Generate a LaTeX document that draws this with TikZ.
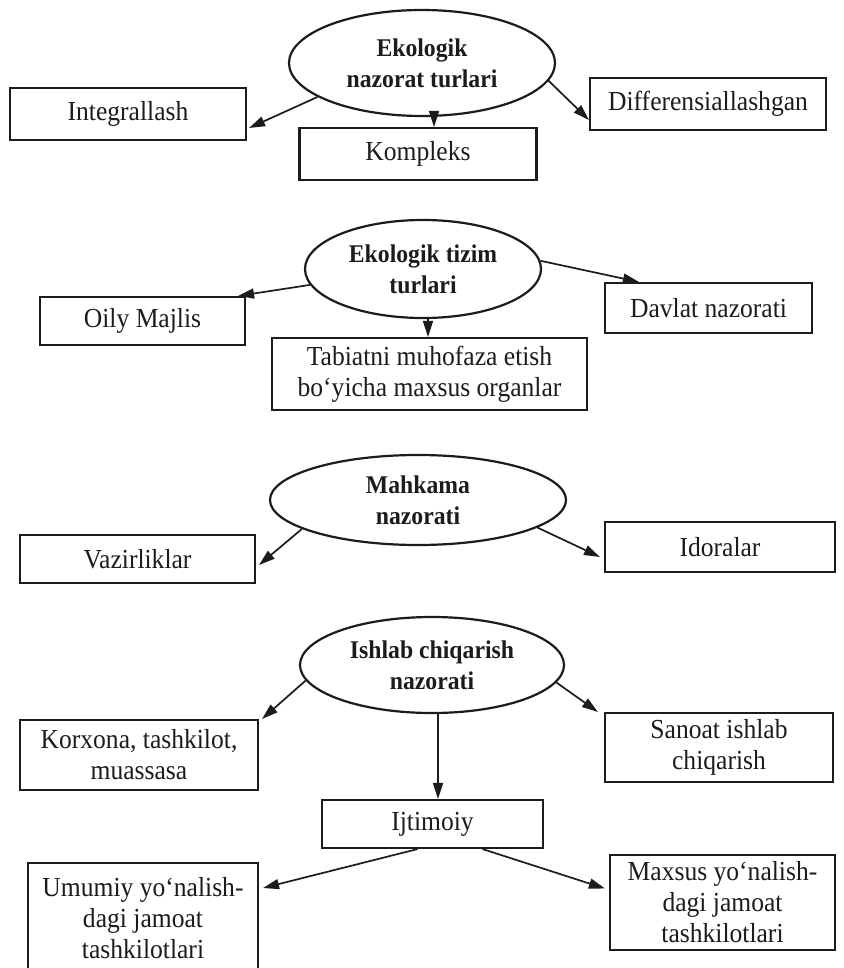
\documentclass[tikz,border=0pt]{standalone}
\usepackage{fontspec}
\setmainfont{Liberation Serif}[FakeStretch=0.93]
\usetikzlibrary{shapes.geometric,arrows.meta,calc}
\definecolor{ink}{HTML}{1C1C1C}
\tikzset{
  ell/.style={draw=ink, text=ink, ellipse, line width=2.2pt, inner sep=0pt,
    font=\fontsize{25.5}{31}\selectfont\bfseries, align=center},
  bx/.style={draw=ink, text=ink, rectangle, line width=2.1pt, inner sep=0pt,
    font=\fontsize{27.5}{31}\selectfont, align=center},
  arr/.style={draw=ink, line width=1.7pt, -{Triangle[length=16pt,width=10pt]}}
}
\begin{document}
\begin{tikzpicture}[x=1pt,y=-1pt]
\useasboundingbox[fill=white] (0,0) rectangle (843,968);

% group 1
\node[ell, minimum width=266pt, minimum height=106pt] (e1) at (422,63) {Ekologik\\nazorat turlari};
\node[bx, minimum width=236pt, minimum height=52pt] (int) at (128,114) {Integrallash};
\node[bx, minimum width=237pt, minimum height=52pt] (komp) at (418,154) {Kompleks};
\node[bx, minimum width=236pt, minimum height=52pt] (dif) at (708,104) {Differensiallashgan};
\draw[arr] (e1.198) -- ([shift={(2,14)}]int.east);
\draw[arr] ([shift={(12,0)}]e1.south) -- ([shift={(12,0)}]e1.south |- komp.north);
\draw[arr] (e1.352) -- ([shift={(0,16)}]dif.west);

% group 2
\node[ell, minimum width=236pt, minimum height=98pt] (e2) at (423,269) {Ekologik tizim\\turlari};
\node[bx, minimum width=205pt, minimum height=48pt] (om) at (142.5,321) {Oily Majlis};
\node[bx, minimum width=207pt, minimum height=50pt] (dav) at (708.5,308) {Davlat nazorati};
\node[bx, minimum width=315pt, minimum height=72pt] (tab) at (429.5,374) {Tabiatni muhofaza etish\\bo‘yicha maxsus organlar};
\draw[arr] (e2.188) -- ([shift={(-8,0)}]om.north east);
\draw[arr] (e2.4) -- ([shift={(35,0)}]dav.north west);
\draw[arr] ([shift={(5,0)}]e2.south) -- ([shift={(5,0)}]e2.south |- tab.north);

% group 3
\node[ell, minimum width=296pt, minimum height=90pt] (e3) at (418,500) {Mahkama\\nazorati};
\node[bx, minimum width=235pt, minimum height=48pt] (vaz) at (137.5,559) {Vazirliklar};
\node[bx, minimum width=230pt, minimum height=50pt] (ido) at (720,547) {Idoralar};
\draw[arr] (e3.194) -- ([shift={(3,6)}]vaz.east);
\draw[arr] (e3.347) -- ([shift={(-4,10)}]ido.west);

% group 4
\node[ell, minimum width=264pt, minimum height=96pt] (e4) at (432,665) {Ishlab chiqarish\\nazorati};
\node[bx, minimum width=238pt, minimum height=70pt] (kor) at (139,755) {Korxona, tashkilot,\\muassasa};
\node[bx, minimum width=228pt, minimum height=69pt] (san) at (719,747.5) {Sanoat ishlab\\chiqarish};
\node[bx, minimum width=221pt, minimum height=48pt] (ijt) at (432.5,824) {Ijtimoiy};
\draw[arr] (e4.187) -- ([shift={(3,0)}]kor.north east);
\draw[arr] (e4.352) -- ([shift={(-6,0)}]san.north west);
\draw[arr] ([shift={(6,0)}]e4.south) -- ([shift={(6,0)}]e4.south |- ijt.north);

% group 5
\node[bx, minimum width=230pt, minimum height=110pt] (umu) at (143,918) {Umumiy yo‘nalish-\\dagi jamoat\\tashkilotlari};
\node[bx, minimum width=225pt, minimum height=95pt] (max) at (722.5,902.5) {Maxsus yo‘nalish-\\dagi jamoat\\tashkilotlari};
\draw[arr] ([shift={(-15,0)}]ijt.south) -- ([shift={(4,-30)}]umu.east);
\draw[arr] ([shift={(50,0)}]ijt.south) -- ([shift={(-4,-14)}]max.west);
\end{tikzpicture}
\end{document}
